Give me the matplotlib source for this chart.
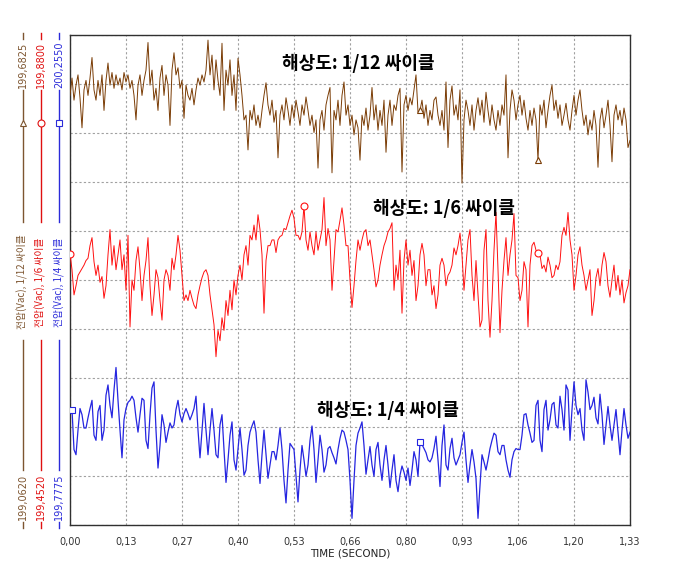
import numpy as np
import matplotlib
matplotlib.use('Agg')
from matplotlib import pyplot as plt
from matplotlib.lines import Line2D

plt.rcParams['font.family'] = ['DejaVu Sans']
KR = ['Noto Sans CJK KR', 'DejaVu Sans']

# time axis
time_end = 1.33
xtick_labels = ["0,00", "0,13", "0,27", "0,40", "0,53", "0,66",
                "0,80", "0,93", "1,06", "1,20", "1,33"]

# one y-scale per trace (volts)
axis_min = [199.0620, 199.4520, 199.7775]
axis_max = [199.6825, 199.8800, 200.2550]
axis_names = ["전압(Vac), 1/12 싸이클", "전압(Vac), 1/6 싸이클", "전압(Vac), 1/4 싸이클"]
titles = ["해상도: 1/12 싸이클", "해상도: 1/6 싸이클", "해상도: 1/4 싸이클"]

# voltage (uniform time steps)
brown_v = [
    199.606, 199.628, 199.600, 199.619, 199.632, 199.603, 199.565, 199.613, 199.625, 199.606,
    199.628, 199.654, 199.613, 199.600, 199.625, 199.606, 199.632, 199.587, 199.625, 199.647,
    199.619, 199.635, 199.615, 199.632, 199.619, 199.628, 199.613, 199.635, 199.623, 199.632,
    199.615, 199.625, 199.606, 199.575, 199.619, 199.632, 199.606, 199.625, 199.638, 199.673,
    199.619, 199.638, 199.600, 199.615, 199.587, 199.628, 199.644, 199.606, 199.632, 199.619,
    199.568, 199.638, 199.660, 199.632, 199.641, 199.615, 199.625, 199.577, 199.619, 199.606,
    199.600, 199.615, 199.594, 199.613, 199.628, 199.619, 199.632, 199.623, 199.638, 199.676,
    199.632, 199.657, 199.613, 199.651, 199.625, 199.606, 199.672, 199.587, 199.638, 199.619,
    199.651, 199.606, 199.632, 199.587, 199.653, 199.632, 199.606, 199.575, 199.581, 199.537,
    199.587, 199.575, 199.594, 199.568, 199.581, 199.565, 199.587, 199.606, 199.622, 199.594,
    199.581, 199.600, 199.572, 199.587, 199.527, 199.581, 199.594, 199.575, 199.603, 199.587,
    199.568, 199.594, 199.577, 199.600, 199.585, 199.568, 199.594, 199.581, 199.604, 199.587,
    199.568, 199.581, 199.559, 199.575, 199.514, 199.575, 199.587, 199.562, 199.594, 199.606,
    199.616, 199.508, 199.587, 199.575, 199.600, 199.568, 199.606, 199.623, 199.581, 199.594,
    199.568, 199.581, 199.556, 199.575, 199.565, 199.524, 199.581, 199.568, 199.590, 199.562,
    199.581, 199.616, 199.575, 199.594, 199.562, 199.587, 199.568, 199.600, 199.534, 199.581,
    199.600, 199.568, 199.594, 199.587, 199.606, 199.615, 199.509, 199.594, 199.606, 199.587,
    199.603, 199.594, 199.613, 199.632, 199.585, 199.587, 199.600, 199.577, 199.594, 199.568,
    199.587, 199.575, 199.600, 199.604, 199.581, 199.568, 199.587, 199.562, 199.623, 199.540,
    199.600, 199.618, 199.581, 199.594, 199.575, 199.613, 199.495, 199.575, 199.600, 199.587,
    199.568, 199.594, 199.562, 199.587, 199.603, 199.581, 199.600, 199.572, 199.610, 199.587,
    199.568, 199.594, 199.575, 199.562, 199.587, 199.568, 199.594, 199.581, 199.632, 199.527,
    199.587, 199.613, 199.600, 199.575, 199.594, 199.606, 199.581, 199.600, 199.577, 199.562,
    199.587, 199.568, 199.590, 199.575, 199.524, 199.594, 199.581, 199.600, 199.565, 199.587,
    199.606, 199.619, 199.587, 199.600, 199.577, 199.594, 199.568, 199.581, 199.596, 199.575,
    199.562, 199.587, 199.606, 199.581, 199.600, 199.613, 199.587, 199.568, 199.581, 199.556,
    199.575, 199.562, 199.587, 199.568, 199.515, 199.575, 199.590, 199.565, 199.581, 199.600,
    199.568, 199.522, 199.581, 199.594, 199.575, 199.587, 199.568, 199.590, 199.575, 199.540,
    199.549]

red_v = [
    199.689, 199.675, 199.653, 199.661, 199.670, 199.673, 199.676, 199.679, 199.683, 199.685,
    199.696, 199.703, 199.682, 199.670, 199.679, 199.664, 199.669, 199.650, 199.661, 199.688,
    199.710, 199.679, 199.696, 199.675, 199.688, 199.701, 199.675, 199.688, 199.657, 199.705,
    199.625, 199.666, 199.657, 199.683, 199.695, 199.675, 199.648, 199.670, 199.683, 199.703,
    199.661, 199.635, 199.653, 199.675, 199.668, 199.648, 199.631, 199.666, 199.675, 199.670,
    199.657, 199.685, 199.675, 199.688, 199.705, 199.692, 199.670, 199.648, 199.653, 199.648,
    199.657, 199.650, 199.644, 199.641, 199.653, 199.661, 199.668, 199.673, 199.675, 199.670,
    199.653, 199.640, 199.627, 199.599, 199.622, 199.613, 199.633, 199.622, 199.648, 199.635,
    199.657, 199.640, 199.666, 199.653, 199.670, 199.679, 199.666, 199.688, 199.696, 199.679,
    199.705, 199.701, 199.714, 199.701, 199.723, 199.710, 199.688, 199.637, 199.683, 199.696,
    199.696, 199.701, 199.701, 199.690, 199.701, 199.704, 199.705, 199.711, 199.710, 199.716,
    199.722, 199.727, 199.720, 199.705, 199.705, 199.701, 199.708, 199.731, 199.701, 199.692,
    199.708, 199.696, 199.688, 199.708, 199.692, 199.701, 199.710, 199.738, 199.696, 199.711,
    199.701, 199.657, 199.683, 199.710, 199.708, 199.718, 199.729, 199.714, 199.696, 199.696,
    199.666, 199.642, 199.661, 199.683, 199.701, 199.692, 199.701, 199.708, 199.710, 199.696,
    199.701, 199.688, 199.675, 199.660, 199.666, 199.679, 199.688, 199.696, 199.701, 199.708,
    199.711, 199.716, 199.657, 199.679, 199.666, 199.692, 199.637, 199.683, 199.701, 199.679,
    199.692, 199.670, 199.683, 199.648, 199.661, 199.688, 199.698, 199.688, 199.661, 199.675,
    199.675, 199.653, 199.661, 199.641, 199.653, 199.679, 199.685, 199.679, 199.661, 199.670,
    199.673, 199.679, 199.694, 199.688, 199.696, 199.707, 199.688, 199.657, 199.679, 199.701,
    199.710, 199.670, 199.648, 199.683, 199.653, 199.625, 199.631, 199.692, 199.710, 199.648,
    199.616, 199.648, 199.692, 199.725, 199.675, 199.620, 199.657, 199.683, 199.703, 199.670,
    199.688, 199.701, 199.724, 199.670, 199.668, 199.648, 199.657, 199.682, 199.675, 199.625,
    199.679, 199.696, 199.699, 199.692, 199.690, 199.688, 199.676, 199.679, 199.673, 199.686,
    199.679, 199.668, 199.670, 199.679, 199.675, 199.682, 199.705, 199.712, 199.705, 199.725,
    199.701, 199.688, 199.657, 199.670, 199.688, 199.695, 199.679, 199.670, 199.657, 199.666,
    199.675, 199.635, 199.648, 199.668, 199.676, 199.661, 199.679, 199.690, 199.682, 199.661,
    199.651, 199.666, 199.679, 199.657, 199.670, 199.653, 199.666, 199.646, 199.655, 199.661,
    199.675]

blue_v = [
    199.888, 199.890, 199.851, 199.846, 199.870, 199.891, 199.885, 199.872, 199.872, 199.882,
    199.891, 199.899, 199.865, 199.860, 199.888, 199.894, 199.860, 199.870, 199.904, 199.914,
    199.894, 199.882, 199.909, 199.931, 199.899, 199.870, 199.843, 199.880, 199.891, 199.897,
    199.899, 199.903, 199.899, 199.882, 199.868, 199.885, 199.901, 199.899, 199.860, 199.852,
    199.885, 199.911, 199.917, 199.870, 199.833, 199.855, 199.885, 199.875, 199.858, 199.868,
    199.877, 199.872, 199.875, 199.890, 199.899, 199.885, 199.878, 199.886, 199.891, 199.886,
    199.880, 199.885, 199.891, 199.903, 199.870, 199.843, 199.870, 199.896, 199.870, 199.846,
    199.870, 199.891, 199.870, 199.846, 199.843, 199.875, 199.885, 199.851, 199.819, 199.841,
    199.865, 199.878, 199.841, 199.831, 199.852, 199.872, 199.851, 199.826, 199.831, 199.855,
    199.868, 199.874, 199.879, 199.868, 199.841, 199.818, 199.846, 199.870, 199.846, 199.823,
    199.836, 199.849, 199.849, 199.841, 199.855, 199.872, 199.851, 199.821, 199.799, 199.831,
    199.857, 199.854, 199.851, 199.826, 199.800, 199.831, 199.855, 199.841, 199.825, 199.836,
    199.860, 199.874, 199.851, 199.819, 199.841, 199.865, 199.851, 199.829, 199.836, 199.852,
    199.854, 199.848, 199.843, 199.837, 199.851, 199.862, 199.870, 199.868, 199.860, 199.851,
    199.821, 199.784, 199.821, 199.855, 199.867, 199.872, 199.878, 199.855, 199.827, 199.841,
    199.854, 199.836, 199.825, 199.851, 199.858, 199.836, 199.821, 199.841, 199.855, 199.836,
    199.814, 199.831, 199.846, 199.821, 199.810, 199.826, 199.835, 199.829, 199.821, 199.833,
    199.816, 199.831, 199.849, 199.841, 199.825, 199.858, 199.856, 199.852, 199.848, 199.841,
    199.839, 199.843, 199.852, 199.864, 199.841, 199.815, 199.855, 199.875, 199.836, 199.831,
    199.852, 199.862, 199.843, 199.836, 199.841, 199.846, 199.858, 199.868, 199.841, 199.819,
    199.836, 199.851, 199.839, 199.823, 199.784, 199.816, 199.846, 199.839, 199.831, 199.841,
    199.852, 199.860, 199.867, 199.865, 199.849, 199.846, 199.855, 199.855, 199.841, 199.831,
    199.824, 199.841, 199.849, 199.852, 199.851, 199.851, 199.865, 199.885, 199.886, 199.875,
    199.867, 199.858, 199.860, 199.894, 199.899, 199.860, 199.849, 199.890, 199.899, 199.870,
    199.880, 199.895, 199.897, 199.875, 199.872, 199.903, 199.890, 199.870, 199.914, 199.909,
    199.860, 199.890, 199.917, 199.894, 199.885, 199.891, 199.870, 199.860, 199.919, 199.907,
    199.890, 199.894, 199.902, 199.882, 199.876, 199.905, 199.885, 199.856, 199.875, 199.893,
    199.875, 199.860, 199.875, 199.890, 199.868, 199.846, 199.870, 199.891, 199.875, 199.862,
    199.868]

# sample indices carrying the series symbol
brown_marks = [175, 234]
red_marks = [0, 117, 234]
blue_marks = [1, 175]

W, H = 673, 567
fig = plt.figure(figsize=(W / 100, H / 100), dpi=100)
ax = fig.add_axes([70 / W, 42 / H, 560 / W, 490 / H])
ax.set_xlim(0, time_end)
ax.set_ylim(0, 10)
ax.set_xticks(np.linspace(0, time_end, 11))
ax.set_xticklabels(xtick_labels, fontsize=7, color='#333333')
ax.set_yticks(np.arange(0, 11))
ax.tick_params(axis='y', length=0, labelleft=False)
ax.tick_params(axis='x', length=0, pad=9)
ax.grid(True, color='#a0a0a0', linestyle=(0, (2, 2)), linewidth=0.8)
for s in ax.spines.values():
    s.set_color('#303030')
    s.set_linewidth(1.0)
ax.set_xlabel('TIME (SECOND)', fontsize=7.5, color='#222222', labelpad=1)

traces = [
    (brown_v, brown_marks, '#7a3c05', '#7d5530', '^', 0.7),
    (red_v, red_marks, '#ff1010', '#e01010', 'o', 0.7),
    (blue_v, blue_marks, '#2525e0', '#2b2bd9', 's', 0.9),
]

col_x = [22.5, 40.5, 59.0]


def fx(px):
    return px / W


def fy(py):
    return 1 - py / H


for i, (vals, marks, col, lab_col, mk, lw) in enumerate(traces):
    tw = ax.twinx()
    tw.set_ylim(axis_min[i], axis_max[i])
    tw.axis('off')
    t = np.linspace(0, time_end, len(vals))
    tw.plot(t, vals, color=col, lw=lw, marker=mk, markevery=marks,
            mfc='white', mec=col, ms=5, mew=0.8)

    # side scale: max, line with symbol, name, line, min
    x = col_x[i]
    top = f"{axis_max[i]:.4f}".replace('.', ',')
    bot = f"{axis_min[i]:.4f}".replace('.', ',')
    fig.add_artist(Line2D([fx(x), fx(x)], [fy(33), fy(39)], color=lab_col, lw=1))
    fig.text(fx(x), fy(42), top, rotation=90, ha='center', va='top',
             fontsize=7, color=lab_col)
    fig.add_artist(Line2D([fx(x), fx(x)], [fy(90), fy(222)], color=lab_col, lw=1))
    fig.add_artist(Line2D([fx(x)], [fy(123)], marker=mk, mfc='white', mec=lab_col,
                          ms=5, mew=0.8, color=lab_col))
    fig.text(fx(x), fy(282), axis_names[i], rotation=90, ha='center', va='center',
             fontsize=7, family=KR, color=lab_col)
    fig.add_artist(Line2D([fx(x), fx(x)], [fy(340), fy(470)], color=lab_col, lw=1))
    fig.text(fx(x), fy(520), bot, rotation=90, ha='center', va='bottom',
             fontsize=7, color=lab_col)
    fig.add_artist(Line2D([fx(x), fx(x)], [fy(522), fy(528)], color=lab_col, lw=1))

# resolution captions
title_pos = [(282, 63), (373, 208), (317, 410)]
for txt, (px, py) in zip(titles, title_pos):
    fig.text(fx(px), fy(py), txt, ha='left', va='center', fontsize=13,
             fontweight='bold', family=KR, color='black')

fig.savefig('out.png', dpi=100)
